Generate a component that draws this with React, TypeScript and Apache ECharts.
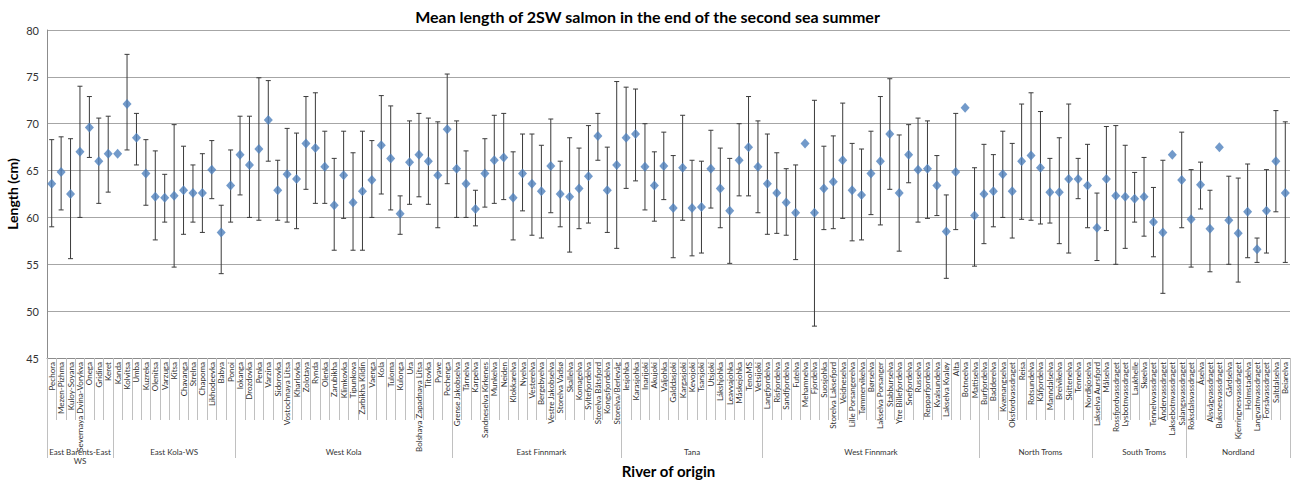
import React, { useEffect, useRef } from "react";
import * as echarts from "echarts";

const rivers: string[] = [
  "Pechora", "Mezen-Pizhma", "Kuloy-Soyana", "Severnaya Dvina-Vorykva", "Onega", "Gridina", "Keret",
  "Kanda", "Kolvitsa", "Umba", "Kuzreka", "Olenitsa", "Varzuga", "Kitsa", "Chavanga", "Strelna", "Chapoma", "Likhodeevka", "Babya", "Ponoi",
  "Iokanga", "Drozdovka", "Penka", "Varzina", "Sidorovka", "Vostochnaya Litsa", "Kharlovka", "Zolotaya", "Rynda", "Olenka", "Zarubikha", "Klimkovka", "Tipunkova", "Zarbikha Kildin", "Vaenga", "Kola", "Tuloma", "Kulonga", "Ura", "Bolshaya Zapadnaya Litsa", "Titovka", "Pyave", "Pechenga",
  "Grense Jakobselva", "Tårnelva", "Karpelva", "Sandneselva Kirkenes", "Munkelva", "Neiden", "Klokkarelva", "Nyelva", "Vesterelva", "Bergebyelva", "Vestre Jakobselva", "Storelva Vadsø", "Skallelva", "Komagelva", "Syltefjordelva", "Storelva Båtsfjord", "Kongsfjordelva", "Storelva/Berlevåg",
  "Iesjohka", "Karasjohka", "Inarijoki", "Akujoki", "Valjohka", "Galddasjoki", "Kargasjoki", "Kevojoki", "Tsarsjoki", "Utsjoki", "Lákshjohka", "Leavvajohka", "Máskejohka", "TenoMS", "Vetsijoki",
  "Langfjordelva", "Risfjordelva", "Sandfjordelva", "Futelva", "Mehamnelva", "Fjordelva", "Suosjohka", "Storelva Laksefjord", "Veidneselva", "Lille Porsangerelva", "Tømmervikelva", "Børselva", "Lakselva Porsanger", "Stabburselva", "Ytre Billefjordelva", "Snefjordelva", "Russelva", "Repparfjordelva", "Kvalsundelva", "Lakselva Kvaløy", "Alta", "Botneelva", "Mattiselva",
  "Burfjordelva", "Badderelva", "Kvænangselva", "Oksfordvassdraget", "Reisa", "Rotsundelva", "Kåfjordelva", "Manndalselva", "Breivikelva", "Skittenelva", "Tennelva", "Nordkjoselva",
  "Lakselva Aursfjord", "Målselva", "Rossfjordvassdraget", "Lysbotnvassdraget", "Laukhelle", "Skøelva", "Tennelvvassdraget", "Åndervassdraget", "Laksebotnvassdraget", "Salangsvassdraget",
  "Roksdalsvassdraget", "Åselva", "Alsvågvassdraget", "Buksnesvassdraget", "Gårdselva", "Kjerringnesvassdraget", "Holmstadelva", "Langvatnvassdraget", "Forsåvassdraget", "Saltdalselva", "Beiarelva",
];

const groupNames: string[] = [
  "East Barents-East\nWS", "East Kola-WS", "West Kola", "East Finnmark", "Tana",
  "West Finnmark", "North Troms", "South Troms", "Nordland",
];
const groupSizes: number[] = [7, 13, 23, 18, 15, 23, 12, 10, 11];

const meanLength: number[] = [
  63.6, 64.85, 62.5, 67.0, 69.6, 66.0, 66.8,
  66.8, 72.1, 68.5, 64.7, 62.2, 62.1, 62.3, 62.9, 62.6, 62.6, 65.1, 58.4, 63.4,
  66.7, 65.6, 67.3, 70.4, 62.9, 64.6, 64.1, 67.9, 67.4, 65.4, 61.3, 64.5, 61.6, 62.8, 64.0, 67.7, 66.3, 60.4, 65.9, 66.7, 66.0, 64.5, 69.4,
  65.2, 63.6, 60.9, 64.7, 66.1, 66.4, 62.1, 64.7, 63.6, 62.8, 65.5, 62.5, 62.2, 63.1, 64.4, 68.7, 62.9, 65.6,
  68.5, 68.9, 65.4, 63.4, 65.5, 61.0, 65.3, 61.0, 61.1, 65.2, 63.1, 60.7, 66.1, 67.5, 65.4,
  63.6, 62.6, 61.6, 60.5, 67.9, 60.5, 63.1, 63.8, 66.1, 62.9, 62.4, 64.7, 66.0, 68.9, 62.6, 66.7, 65.1, 65.2, 63.4, 58.5, 64.85, 71.7, 60.2,
  62.5, 62.8, 64.6, 62.8, 66.0, 66.6, 65.3, 62.7, 62.7, 64.1, 64.1, 63.4,
  58.9, 64.1, 62.3, 62.2, 62.0, 62.2, 59.5, 58.4, 66.7, 64.0,
  59.8, 63.5, 58.8, 67.5, 59.7, 58.3, 60.6, 56.6, 60.7, 66.0, 62.6,
];

const errHigh: (number | null)[] = [
  68.3, 68.6, 68.4, 74.0, 72.9, 70.6, 70.8,
  null, 77.4, 71.1, 68.3, 67.1, 64.6, 69.9, 67.6, 65.6, 66.8, 68.2, 61.3, 67.2,
  70.8, 70.8, 74.9, 74.6, 66.1, 69.5, 69.0, 72.9, 73.3, 69.2, 66.3, 69.2, 66.9, 69.2, 68.2, 73.0, 71.9, 62.3, 70.3, 71.1, 70.6, 70.2, 75.3,
  70.3, 67.1, 62.9, 68.4, 70.9, 71.1, 67.0, 68.9, 68.9, 67.7, 70.5, 66.0, 68.5, 67.4, 69.8, 71.1, 67.5, 74.5,
  73.9, 73.7, 70.0, 67.0, 69.1, 66.6, 70.9, 66.1, 66.0, 69.3, 67.4, 66.3, 70.0, 72.9, 70.3,
  68.9, 66.9, 65.2, 65.6, null, 72.5, 67.6, 68.7, 72.2, 67.9, 67.3, 69.2, 72.9, 74.8, 68.8, 69.9, 70.6, 70.3, 66.6, 62.4, 71.1, null, 65.3,
  67.8, 66.7, 69.2, 67.9, 72.1, 73.3, 71.3, 66.3, 68.5, 72.1, 66.3, 67.8,
  62.6, 69.7, 69.8, 67.7, 64.8, 66.4, 63.2, 66.1, null, 69.1,
  65.1, 65.9, 62.9, null, 64.4, 64.2, 65.7, 57.8, 65.1, 71.4, 70.2,
];

const errLow: (number | null)[] = [
  59.0, 60.8, 55.6, 60.0, 66.4, 61.5, 62.7,
  null, 67.2, 65.6, 61.3, 57.6, 59.5, 54.7, 58.2, 59.5, 58.4, 62.0, 54.0, 59.5,
  62.4, 60.0, 59.7, 66.0, 59.7, 59.5, 58.8, 63.0, 61.5, 61.5, 56.5, 59.9, 56.5, 56.5, 60.0, 62.5, 60.8, 58.2, 61.4, 62.2, 61.4, 58.9, 63.6,
  60.0, 60.0, 59.1, 61.1, 61.5, 61.9, 57.6, 60.7, 58.1, 57.8, 60.5, 59.0, 56.3, 58.8, 59.4, 66.1, 58.4, 56.7,
  63.1, 63.9, 60.8, 59.6, 61.9, 55.7, 59.7, 55.9, 56.2, 61.0, 58.9, 55.1, 62.3, 62.3, 60.5,
  58.2, 58.3, 58.1, 55.5, null, 48.4, 58.7, 58.8, 59.9, 57.5, 57.6, 60.3, 59.2, 63.0, 56.4, 63.7, 59.5, 59.9, 60.2, 53.5, 58.7, null, 54.8,
  57.2, 59.0, 60.0, 57.8, 59.8, 59.7, 59.3, 59.4, 57.2, 56.2, 62.0, 58.9,
  55.4, 58.6, 55.0, 56.7, 59.5, 58.0, 55.8, 51.9, null, 58.9,
  54.7, 60.9, 54.2, null, 55.0, 53.1, 55.7, 55.2, 56.2, 60.6, 55.2,
];

const yTicks = { min: 45, max: 80, step: 5 };

const FONT = "Lato, 'Open Sans', sans-serif";

export default function App() {
  const ref = useRef<HTMLDivElement>(null);

  useEffect(() => {
    document.body.style.margin = "0";
    if (!ref.current) return;
    const chart = echarts.init(ref.current, undefined, { renderer: "svg" });

    const boundaries = new Set<number>();
    const labelAt = new Map<number, string>();
    let start = 0;
    groupSizes.forEach((n, gi) => {
      boundaries.add(start);
      const center = Math.round((start + start + n) / 2 - 0.5);
      labelAt.set(center, groupNames[gi]);
      start += n;
    });

    const errData = rivers
      .map((_, i) => [i, errLow[i], errHigh[i]])
      .filter((d) => d[1] != null && d[2] != null);

    const option: any = {
      animation: false,
      backgroundColor: "#ffffff",
      textStyle: { fontFamily: FONT },
      title: {
        text: "Mean length of 2SW salmon in the end of the second sea summer",
        left: "center",
        top: 3,
        textStyle: { fontFamily: FONT, fontSize: 16, fontWeight: "bold", color: "#000" },
      },
      grid: { left: 47, right: 5, top: 30, bottom: 126, containLabel: false, outerBoundsMode: "none" },
      xAxis: [
        {
          type: "category",
          data: rivers,
          boundaryGap: true,
          position: "bottom",
          axisLine: { show: true, lineStyle: { color: "#8c8c8c", width: 1 } },
          axisTick: { show: true, interval: 0, length: 62, lineStyle: { color: "#c0c0c0", width: 1 } },
          axisLabel: {
            interval: 0,
            rotate: 90,
            margin: 4,
            fontSize: 8,
            color: "#333",
            fontFamily: FONT,
          },
          splitLine: { show: false },
        },
        {
          type: "category",
          data: rivers,
          boundaryGap: true,
          position: "bottom",
          offset: 62,
          axisLine: { show: false },
          axisTick: {
            show: true,
            length: 38,
            interval: (idx: number) => boundaries.has(idx),
            lineStyle: { color: "#c0c0c0", width: 1 },
          },
          axisLabel: {
            interval: (idx: number) => labelAt.has(idx),
            formatter: (_v: string, idx: number) => labelAt.get(idx) || "",
            margin: 27,
            fontSize: 8,
            lineHeight: 9,
            color: "#333",
            fontFamily: FONT,
          },
          name: "River of origin",
          nameLocation: "middle",
          nameGap: 43,
          nameMoveOverlap: false,
          nameTextStyle: { fontFamily: FONT, fontSize: 15, fontWeight: "bold", color: "#000" },
        },
      ],
      yAxis: {
        type: "value",
        min: yTicks.min,
        max: yTicks.max,
        interval: yTicks.step,
        axisLine: { show: true, lineStyle: { color: "#8c8c8c" } },
        axisTick: { show: false },
        axisLabel: { fontSize: 11, color: "#333", margin: 8, fontFamily: FONT },
        splitLine: { show: true, lineStyle: { color: "#a6a6a6", width: 1 } },
        name: "Length (cm)",
        nameLocation: "middle",
        nameGap: 28,
        nameMoveOverlap: false,
        nameTextStyle: { fontFamily: FONT, fontSize: 14, fontWeight: "bold", color: "#000" },
      },
      series: [
        {
          type: "custom",
          name: "error",
          xAxisIndex: 0,
          yAxisIndex: 0,
          data: errData,
          encode: { x: 0, y: [1, 2] },
          z: 2,
          renderItem: (_params: any, api: any) => {
            const idx = api.value(0);
            const lo = api.coord([idx, api.value(1)]);
            const hi = api.coord([idx, api.value(2)]);
            const cap = 2.5;
            const style = { stroke: "#3a3a3a", lineWidth: 1 };
            return {
              type: "group",
              children: [
                { type: "line", shape: { x1: lo[0], y1: lo[1], x2: hi[0], y2: hi[1] }, style },
                { type: "line", shape: { x1: lo[0] - cap, y1: lo[1], x2: lo[0] + cap, y2: lo[1] }, style },
                { type: "line", shape: { x1: hi[0] - cap, y1: hi[1], x2: hi[0] + cap, y2: hi[1] }, style },
              ],
            };
          },
        },
        {
          type: "scatter",
          name: "Mean length",
          xAxisIndex: 0,
          yAxisIndex: 0,
          data: meanLength,
          symbol: "diamond",
          symbolSize: [9, 10],
          itemStyle: { color: "#4F81BD" },
          z: 3,
        },
      ],
    };

    chart.setOption(option);
    return () => chart.dispose();
  }, []);

  return <div ref={ref} style={{ width: 1295, height: 484 }} />;
}
